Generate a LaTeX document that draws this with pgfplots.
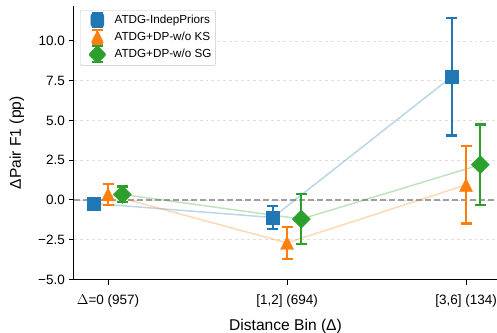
\documentclass[border=0pt]{standalone}
\usepackage{pgfplots}
\pgfplotsset{compat=1.18}
\usepackage{fontspec}
\setmainfont{Liberation Sans}
\definecolor{c1}{HTML}{1F77B4}
\definecolor{c2}{HTML}{FF7F0E}
\definecolor{c3}{HTML}{2CA02C}
\begin{document}
\begin{tikzpicture}
\begin{axis}[
  scale only axis, width=423bp, height=273.5bp,
  xmin=-0.19, xmax=2.173, ymin=-5, ymax=12.2,
  axis lines=left, axis line style={-, line width=1bp},
  tick align=outside, major tick length=5bp,
  every tick/.style={black, line width=1bp},
  xtick={0,1,2}, xticklabels={$\Delta$=0 (957),{[1,2] (694)},{[3,6] (134)}},
  ytick={-5,-2.5,0,2.5,5,7.5,10},
  yticklabels={−5.0,−2.5,0.0,2.5,5.0,7.5,10.0},
  ticklabel style={font=\fontsize{13.5bp}{16bp}\selectfont},
  xticklabel style={anchor=base, yshift=-20bp},
  yticklabel style={anchor=east, inner sep=0pt, xshift=-4bp},
  ymajorgrids, major grid style={dashed, gray!25, line width=0.8bp},
  xlabel={Distance Bin (Δ)}, ylabel={ΔPair F1 (pp)},
  label style={font=\fontsize{15.6bp}{18bp}\selectfont},
  x label style={at={(axis description cs:0.5,-0.1861)}, anchor=base},
  y label style={at={(axis description cs:-0.1253,0.5)}, anchor=base},
  legend style={at={(axis description cs:0.0142,0.985)}, anchor=north west,
    draw=gray!45, rounded corners=2bp, fill=white, fill opacity=0.8, text opacity=1,
    font=\fontsize{11.7bp}{13bp}\selectfont, row sep=0.5bp, inner sep=2bp},
  legend cell align=left,
  clip=false,
]
\addlegendimage{legend image code/.code={
  \path (0bp,0bp) (30bp,0bp);
  \draw[c1, opacity=1, line width=2bp] (15bp,-7bp)--(15bp,7bp) (9.5bp,-7bp)--(20.5bp,-7bp) (9.5bp,7bp)--(20.5bp,7bp);
  \fill[c1, opacity=1] (8.5bp,-6.5bp) rectangle (21.5bp,6.5bp);}}
\addlegendentry{ATDG-IndepPriors}
\addlegendimage{legend image code/.code={
  \path (0bp,0bp) (30bp,0bp);
  \draw[c2, opacity=1, line width=2bp] (15bp,-7bp)--(15bp,7bp) (9.5bp,-7bp)--(20.5bp,-7bp) (9.5bp,7bp)--(20.5bp,7bp);
  \fill[c2, opacity=1] (15bp,6.5bp) -- (8.5bp,-6.5bp) -- (21.5bp,-6.5bp) -- cycle;}}
\addlegendentry{ATDG+DP-w/o KS}
\addlegendimage{legend image code/.code={
  \path (0bp,0bp) (30bp,0bp);
  \draw[c3, opacity=1, line width=2bp] (15bp,-8bp)--(15bp,8bp) (9.5bp,-8bp)--(20.5bp,-8bp) (9.5bp,8bp)--(20.5bp,8bp);
  \fill[c3, opacity=1] (15bp,9bp) -- (6bp,0bp) -- (15bp,-9bp) -- (24bp,0bp) -- cycle;}}
\addlegendentry{ATDG+DP-w/o SG}
% zero line
\addplot[forget plot, gray!75, dashed, dash pattern=on 6bp off 3bp, line width=1.5bp] coordinates {(-0.19,0) (2.173,0)};
% connecting lines
\addplot[forget plot, c1, opacity=0.3, line width=1.5bp] coordinates {(-0.08,-0.22) (0.92,-1.1) (1.92,7.75)};
\addplot[forget plot, c2, opacity=0.3, line width=1.5bp] coordinates {(0,0.35) (1,-2.7) (2,0.95)};
\addplot[forget plot, c3, opacity=0.3, line width=1.5bp] coordinates {(0.08,0.35) (1.08,-1.2) (2.08,2.22)};
% error bars and markers
\addplot[forget plot, c1, only marks, mark=square*, mark size=6.5bp,
  error bars/.cd, y dir=both, y explicit,
  error bar style={line width=2.2bp},
  error mark options={rotate=90, mark size=5.5bp, line width=2.2bp}]
  coordinates {(-0.08,-0.22) +- (0,0.15) (0.92,-1.1) +- (0,0.7) (1.92,7.75) +- (0,3.7)};
\addplot[forget plot, c2, only marks, mark=triangle*, mark size=7.5bp,
  mark options={yshift=-2.2bp, yscale=1.155},
  error bars/.cd, y dir=both, y explicit,
  error bar style={line width=2.2bp},
  error mark options={rotate=90, mark size=5.5bp, line width=2.2bp}]
  coordinates {(0,0.35) +- (0,0.65) (1,-2.7) +- (0,1.0) (2,0.95) +- (0,2.43)};
\addplot[forget plot, c3, only marks, mark=square*, mark size=6.4bp,
  mark options={rotate=45},
  error bars/.cd, y dir=both, y explicit,
  error bar style={line width=2.2bp},
  error mark options={rotate=90, mark size=5.5bp, line width=2.2bp}]
  coordinates {(0.08,0.35) +- (0,0.5) (1.08,-1.2) +- (0,1.58) (2.08,2.22) +- (0,2.53)};
\end{axis}
\pgfresetboundingbox
\path[use as bounding box] (-74bp,-53.5bp) rectangle (423bp,279.5bp);
\end{tikzpicture}
\end{document}
